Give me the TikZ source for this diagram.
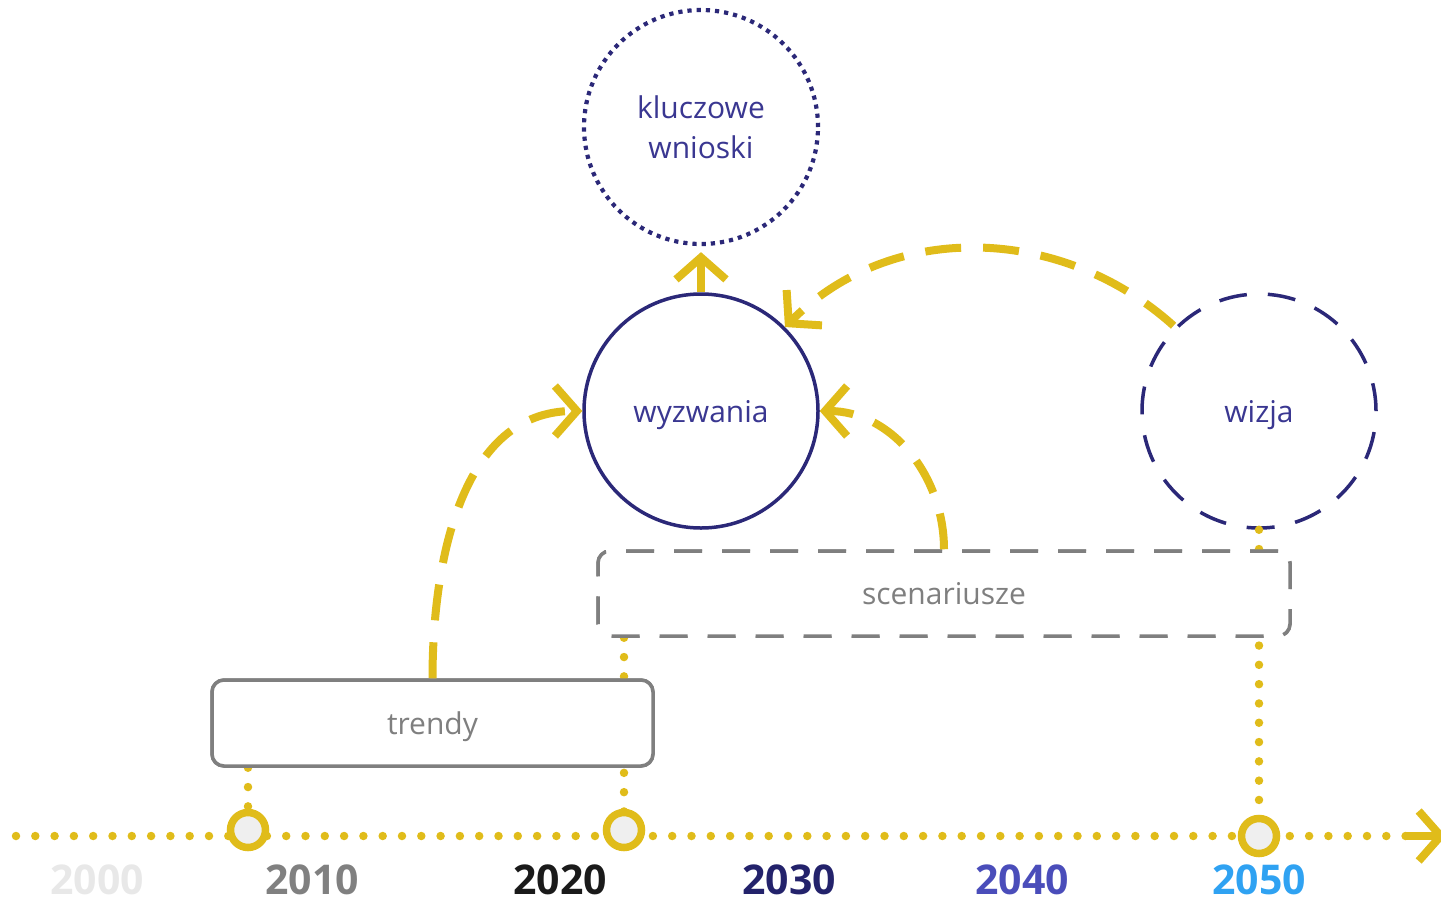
\documentclass[tikz,border=0pt]{standalone}
\usepackage{fontspec}
\setmainfont{Open Sans}
\usetikzlibrary{arrows.meta}
\definecolor{ylw}{HTML}{E0BC1A}
\definecolor{navy}{HTML}{2B2878}
\definecolor{navytxt}{HTML}{3A3791}
\definecolor{boxgray}{HTML}{7F7F7F}
\definecolor{ringfill}{HTML}{EFEFEF}
\definecolor{yA}{HTML}{E8E8E8}
\definecolor{yB}{HTML}{808080}
\definecolor{yC}{HTML}{1A1A1A}
\definecolor{yD}{HTML}{23226B}
\definecolor{yE}{HTML}{4A4DBA}
\definecolor{yF}{HTML}{2FA2F2}
\begin{document}
\begin{tikzpicture}[x=1pt,y=-1pt,
  txt/.style={font=\fontsize{30}{40}\selectfont},
  oneline/.style={text height=22pt, text depth=0pt},
  circ/.style={circle, minimum size=234pt, inner sep=0pt, line width=3.5pt, draw=navy, text=navytxt, align=center, txt},
  dotcirc/.style={circ, line width=4.2pt, dash pattern=on 4.2pt off 5pt},
  dashcirc/.style={circ, dash pattern=on 28pt off 21pt},
  tbox/.style={rectangle, rounded corners=12pt, draw=boxgray, line width=3.5pt, text=boxgray, fill=white, txt, inner sep=0pt, oneline},
  dbox/.style={tbox, dash pattern=on 28pt off 20pt},
  chev/.style={-{Straight Barb[length=22pt,width=50pt]}},
  yarc/.style={draw=ylw, line width=8pt, dash pattern=on 36pt off 22pt, chev},
  ysolid/.style={draw=ylw, line width=8pt, chev},
  dotline/.style={draw=ylw, line width=8.5pt, line cap=round, dash pattern=on 0pt off 19.3pt},
  ring/.style={circle, draw=ylw, fill=ringfill, line width=7.5pt, minimum size=35pt, inner sep=0pt},
  year/.style={font=\fontsize{41}{41}\selectfont\bfseries, inner sep=0pt, text height=30pt, text depth=0pt},
]
\useasboundingbox (0,0) rectangle (1441,900);

% timeline
\coordinate (tlstart) at (16,836);
\coordinate (tlmid) at (1410,836);
\coordinate (tlarrow) at (1405,836);
\coordinate (tlend) at (1446,836);
\draw[dotline] (tlstart) -- (tlmid);
\draw[ysolid] (tlarrow) -- (tlend);

% ring positions
\coordinate (c2010) at (248,830);
\coordinate (c2020) at (624,830);
\coordinate (c2050) at (1259,836);

% main nodes
\node[circ, oneline] (wyz) at (701,411) {wyzwania};
\node[dotcirc] (kw) at (701,127) {kluczowe\\wnioski};
\node[dashcirc, oneline] (wiz) at (1259,411) {wizja};

% boxes (positions)
\node[tbox, minimum width=441pt, minimum height=86pt] (trendy) at (432.5,723) {trendy};
\node[dbox, minimum width=692pt, minimum height=85pt] (scen) at (944,593.5) {scenariusze};

% dotted vertical connectors
\draw[dotline] (wiz.south) -- (c2050);
\draw[dotline] (scen.south -| c2020) -- (c2020);
\draw[dotline] (trendy.south -| c2010) -- (c2010);

% redraw boxes over the dotted lines
\node[tbox, minimum width=441pt, minimum height=86pt] at (trendy) {trendy};
\node[dbox, minimum width=692pt, minimum height=85pt] at (scen) {scenariusze};

% yellow arcs
\draw[yarc] (trendy.north) to[out=90,in=180,looseness=1.0] (wyz.west);
\draw[yarc] (scen.north) to[out=90,in=0] (wyz.east);
\draw[yarc, shorten <=2pt] (wiz.135) to[out=138,in=45] (wyz.45);
\draw[ysolid, shorten >=6pt] (wyz.north) -- (kw.south);

% rings
\node[ring] (r2010) at (c2010) {};
\node[ring] (r2020) at (c2020) {};
\node[ring] (r2050) at (c2050) {};

% years
\node[year, text=yA] (y2000) at (97,879) {2000};
\node[year, text=yB] (y2010) at (312,879) {2010};
\node[year, text=yC] (y2020) at (560,879) {2020};
\node[year, text=yD] (y2030) at (789,879) {2030};
\node[year, text=yE] (y2040) at (1022,879) {2040};
\node[year, text=yF] (y2050) at (1259,879) {2050};
\end{tikzpicture}
\end{document}
